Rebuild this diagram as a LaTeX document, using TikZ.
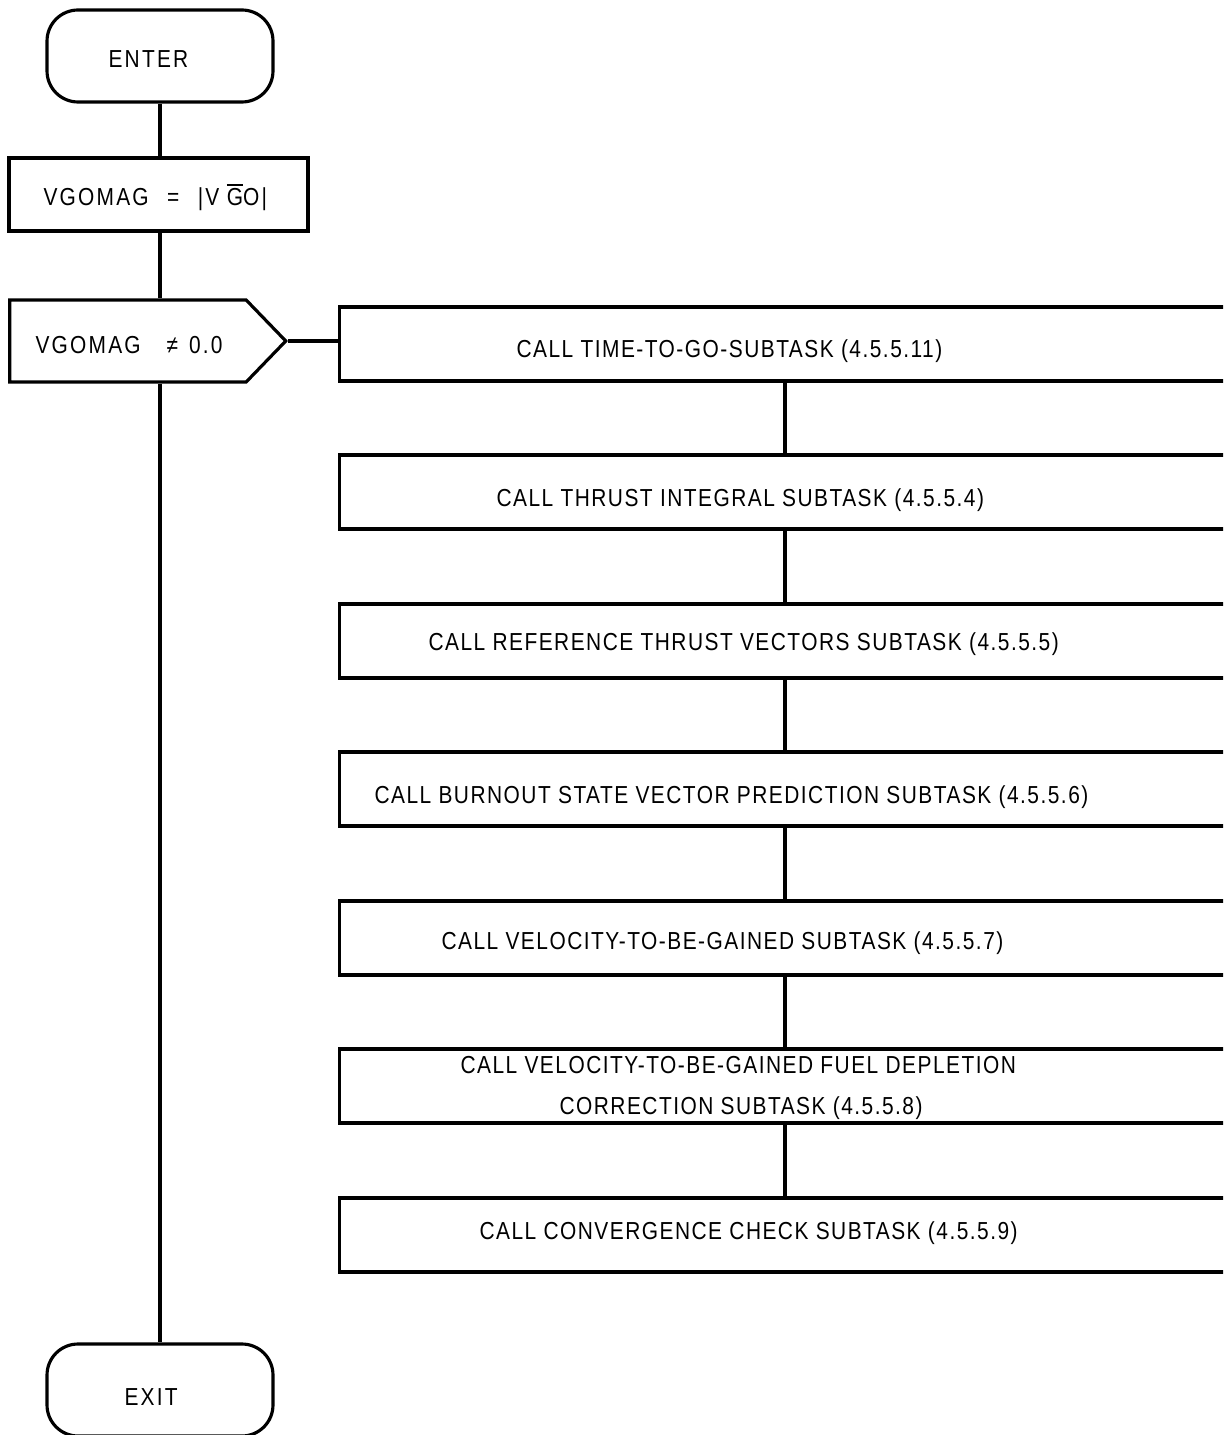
\documentclass[tikz,border=0pt]{standalone}
\usepackage{fontspec}
\setmainfont[FakeStretch=0.85,LetterSpace=6]{Liberation Sans}
\newfontfamily\spacedfont[FakeStretch=0.85,LetterSpace=9]{Liberation Sans}
\usetikzlibrary{positioning,shapes.symbols}
\newcommand\barred[1]{\setbox0\hbox{#1}\rlap{\rule[11.2pt]{\wd0}{1.2pt}}\box0}

\begin{document}
\begin{tikzpicture}[x=0.02cm,y=-0.02cm,line width=1.8pt,
    font=\fontsize{14}{17}\selectfont,
    terminal/.style={draw,rounded corners=0.62cm,minimum width=4.52cm,
      minimum height=1.84cm,inner sep=0pt},
    procbox/.style={draw,minimum width=5.98cm,minimum height=1.46cm,inner sep=0pt},
    testbox/.style={draw,signal,signal to=east,signal pointer angle=92,
      minimum width=5.52cm,minimum height=1.64cm,inner sep=0pt},
    callbox/.style={draw,minimum width=19.22cm,minimum height=1.48cm,inner sep=0pt},
    calltext/.style={anchor=base west,inner sep=0pt},
    spaced/.style={calltext,font=\fontsize{14}{17}\spacedfont}]
  \clip (0,0) rectangle (1223,1435);
  % main line
  \node[terminal] (enter) at (160,56) {};
  \node[spaced] (entertxt) at (107,68) {ENTER};
  \node[procbox] (vgo) at (158.5,194.5) {};
  \node[spaced] (vgotxt) at (42,206)
    {VGOMAG\hspace{0.75em}=\hspace{0.75em}|V\hspace{0.3em}\barred{G}O|};
  \node[testbox] (test) at (128,341) {};
  \node[spaced] (testtxt) at (34,354) {VGOMAG\hspace{1.05em}≠\hspace{0.45em}0.0};
  \node[terminal] (exit) at (160,1390) {};
  \node[spaced] (exittxt) at (123,1405) {EXIT};
  % subtask boxes
  \coordinate (spine) at (785,0);
  \foreach \i/\y in {1/344,2/492,3/641,4/789,5/938,6/1086,7/1235}
    \node[callbox] (b\i) at (819.5,\y) {};
  \node[calltext] (t1) at (515,358) {CALL TIME-TO-GO-SUBTASK (4.5.5.11)};
  \node[calltext] (t2) at (495,506) {CALL THRUST INTEGRAL SUBTASK (4.5.5.4)};
  \node[calltext] (t3) at (427,650) {CALL REFERENCE THRUST VECTORS SUBTASK (4.5.5.5)};
  \node[calltext] (t4) at (373,803) {CALL BURNOUT STATE VECTOR PREDICTION SUBTASK (4.5.5.6)};
  \node[calltext] (t5) at (440,949) {CALL VELOCITY-TO-BE-GAINED SUBTASK (4.5.5.7)};
  \node[calltext] (t6a) at (459,1073) {CALL VELOCITY-TO-BE-GAINED FUEL DEPLETION};
  \node[calltext] (t6b) at (558,1114) {CORRECTION SUBTASK (4.5.5.8)};
  \node[calltext] (t7) at (478,1239) {CALL CONVERGENCE CHECK SUBTASK (4.5.5.9)};
  % connectors
  \draw (enter.south) -- (enter.south |- vgo.north);
  \draw (vgo.south) -- (vgo.south -| enter) |- (test.north -| enter);
  \draw (test.south -| enter) -- (exit.north);
  \draw (test.east) -- (test.east -| b1.west);
  \foreach \i/\j in {1/2,2/3,3/4,4/5,5/6,6/7}
    \draw (b\i.south -| spine) -- (b\j.north -| spine);
\end{tikzpicture}
\end{document}
